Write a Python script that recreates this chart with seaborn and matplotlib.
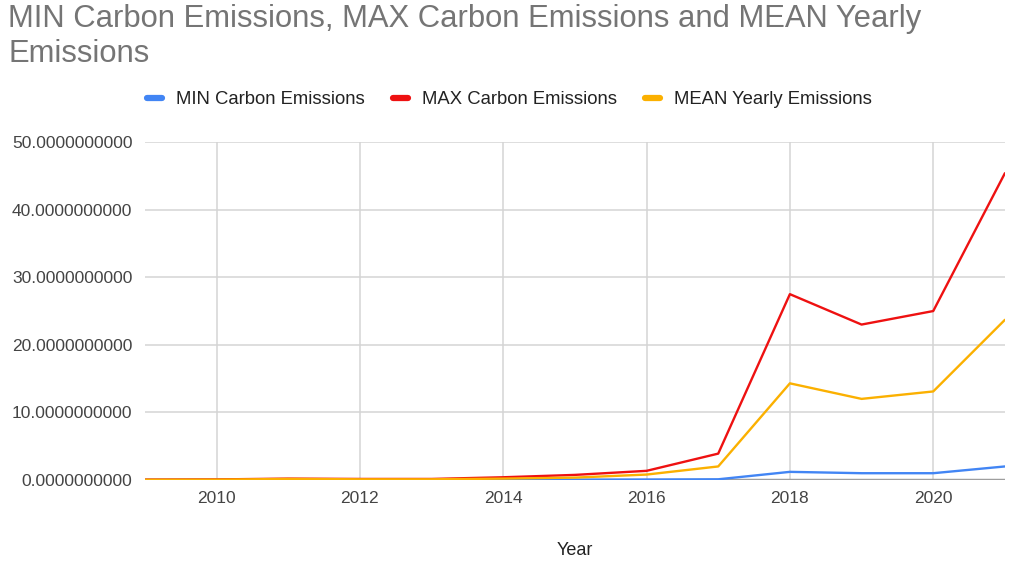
import pandas as pd
import matplotlib
matplotlib.use('Agg')
import matplotlib.pyplot as plt
import seaborn as sns
from matplotlib.ticker import MultipleLocator, FormatStrFormatter

# Values
years = [2009, 2010, 2011, 2012, 2013, 2014, 2015, 2016, 2017, 2018, 2019, 2020, 2021]
min_emissions = [0.0, 0.01, 0.02, 0.02, 0.02, 0.03, 0.04, 0.06, 0.1, 1.2, 1.0, 1.0, 2.0]
max_emissions = [0.05, 0.08, 0.2, 0.15, 0.15, 0.4, 0.75, 1.35, 3.9, 27.5, 23.0, 25.0, 45.4]
mean_emissions = [0.03, 0.05, 0.15, 0.1, 0.1, 0.2, 0.35, 0.8, 2.0, 14.3, 12.0, 13.1, 23.7]

series_names = ['MIN Carbon Emissions', 'MAX Carbon Emissions', 'MEAN Yearly Emissions']
colors = ['#4285F4', '#EE1111', '#FBB000']

df = pd.DataFrame({
    'Year': years * 3,
    'value': min_emissions + max_emissions + mean_emissions,
    'series': [series_names[0]] * len(years) + [series_names[1]] * len(years)
              + [series_names[2]] * len(years),
})

sns.set_style('white')
plt.rcParams['font.family'] = ['Liberation Sans', 'DejaVu Sans']

fig = plt.figure(figsize=(10.13, 5.64), dpi=100)
ax = fig.add_axes([0.143, 0.149, 0.849, 0.599])

sns.lineplot(data=df, x='Year', y='value', hue='series', hue_order=series_names,
             palette=colors, linewidth=1.7, ax=ax, legend=False, zorder=3)

ax.set_xlim(2009, 2021)
ax.set_ylim(0, 50)
ax.xaxis.set_major_locator(MultipleLocator(2))
ax.yaxis.set_major_locator(MultipleLocator(10))
ax.yaxis.set_major_formatter(FormatStrFormatter('%.10f'))

ax.grid(True, color='#d4d4d4', linewidth=1.1)
ax.axhline(0, color='#9e9e9e', linewidth=2.5, zorder=2)
for side in ['top', 'right', 'left', 'bottom']:
    ax.spines[side].set_visible(False)
ax.tick_params(axis='both', length=0, labelsize=12.5, colors='#444444')
ax.tick_params(axis='y', pad=9)
ax.tick_params(axis='x', pad=8)

ax.set_xlabel('Year', fontsize=13, color='#222222', labelpad=26)
ax.set_ylabel('')

fig.text(0.008, 0.993, 'MIN Carbon Emissions, MAX Carbon Emissions and MEAN Yearly\nEmissions',
         ha='left', va='top', fontsize=22.3, color='#757575', linespacing=1.2)

handles = [plt.Line2D([0], [0], color=c, linewidth=4.5) for c in colors]
fig.legend(handles, series_names, loc='center', bbox_to_anchor=(0.503, 0.823), ncol=3,
           frameon=False, fontsize=13.3, handlelength=0.8, handletextpad=0.75,
           columnspacing=1.55, labelcolor='#222222')

fig.savefig('out.png', dpi=100)
